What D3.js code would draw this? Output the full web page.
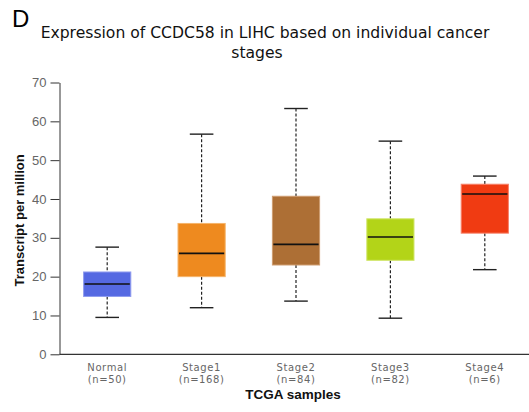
<!DOCTYPE html>
<html>
<head>
<meta charset="utf-8">
<script src="https://cdn.jsdelivr.net/npm/d3@7/dist/d3.min.js"></script>
<style>
  html, body { margin: 0; padding: 0; background: #fff; }
  svg { display: block; }
</style>
</head>
<body>
<svg id="chart" width="529" height="412"></svg>
<script>
// Stage groups and sample counts
const categories = ["Normal", "Stage1", "Stage2", "Stage3", "Stage4"];
const sampleCounts = [50, 168, 84, 82, 6];

// Box-plot summary per group (transcripts per million)
const whiskerLow  = [9.5, 12.0, 13.7, 9.3, 21.8];
const quartile1   = [14.9, 20.0, 23.0, 24.2, 31.2];
const medians     = [18.1, 26.0, 28.3, 30.2, 41.3];
const quartile3   = [21.2, 33.7, 40.7, 34.9, 43.8];
const whiskerHigh = [27.6, 56.7, 63.3, 54.9, 45.9];

const fillColors   = ["#5569e2", "#ee8a1f", "#ad6f35", "#b3d418", "#f03b12"];
const strokeColors = ["#8f9bee", "#f5b46a", "#cf9d70", "#d2e66e", "#f7826a"];

const yTicks = [0, 10, 20, 30, 40, 50, 60, 70];

const svg = d3.select("#chart");
const plot = { left: 60, right: 532, top: 82.5, bottom: 354.3 };

const x = d3.scaleBand().domain(categories).range([plot.left, plot.right]).padding(0);
const y = d3.scaleLinear().domain([0, 70]).range([plot.bottom, plot.top]);

// Panel letter
svg.append("text")
  .attr("x", 12).attr("y", 27)
  .attr("font-family", "Liberation Sans, Arial, sans-serif")
  .attr("font-size", 24)
  .attr("fill", "#000")
  .text("D");

// Title (two lines)
const title = svg.append("text")
  .attr("text-anchor", "middle")
  .attr("font-family", "DejaVu Sans, sans-serif")
  .attr("font-size", 15.6)
  .attr("fill", "#111");
title.append("tspan").attr("x", 265).attr("y", 38).text("Expression of CCDC58 in LIHC based on individual cancer");
title.append("tspan").attr("x", 257).attr("y", 58).text("stages");

// Y axis
const yAxis = svg.append("g")
  .attr("transform", `translate(${plot.left - 0.5},0)`)
  .call(d3.axisLeft(y).tickValues(yTicks).tickSize(9).tickPadding(4).tickSizeOuter(0));
yAxis.select(".domain").attr("stroke", "#333").attr("stroke-width", 1);
yAxis.selectAll(".tick line").attr("stroke", "#333");
yAxis.selectAll(".tick text")
  .attr("fill", "#666")
  .attr("font-family", "Liberation Sans, Arial, sans-serif")
  .attr("font-size", 13);

// X axis baseline
svg.append("line")
  .attr("x1", plot.left - 0.5).attr("x2", 529)
  .attr("y1", y(0)).attr("y2", y(0))
  .attr("stroke", "#333").attr("stroke-width", 1.2);

// Y axis title
svg.append("text")
  .attr("transform", `translate(24,${(y(0) + y(70)) / 2 + 2}) rotate(-90)`)
  .attr("text-anchor", "middle")
  .attr("font-family", "Liberation Sans, Arial, sans-serif")
  .attr("font-weight", "bold")
  .attr("font-size", 13)
  .attr("fill", "#111")
  .text("Transcript per million");

// Category labels
const catLabels = svg.append("g")
  .attr("font-family", "DejaVu Sans, sans-serif")
  .attr("font-size", 10)
  .attr("letter-spacing", 0.6)
  .attr("fill", "#666")
  .attr("text-anchor", "middle");
categories.forEach((c, i) => {
  const cx = x(c) + x.bandwidth() / 2;
  catLabels.append("text").attr("x", cx).attr("y", 371).text(c);
  catLabels.append("text").attr("x", cx).attr("y", 383).text(`(n=${sampleCounts[i]})`);
});

// X axis title
svg.append("text")
  .attr("x", 293).attr("y", 399)
  .attr("text-anchor", "middle")
  .attr("font-family", "Liberation Sans, Arial, sans-serif")
  .attr("font-weight", "bold")
  .attr("font-size", 13.5)
  .attr("fill", "#111")
  .text("TCGA samples");

// Boxes
const boxW = x.bandwidth() * 0.5;
const capW = boxW * 0.5;
const groups = svg.append("g").selectAll("g")
  .data(categories.map((c, i) => ({
    c, i,
    lo: whiskerLow[i], q1: quartile1[i], med: medians[i], q3: quartile3[i], hi: whiskerHigh[i]
  })))
  .join("g")
  .attr("transform", d => `translate(${x(d.c) + x.bandwidth() / 2},0)`);

// Whiskers (dashed)
groups.append("line")
  .attr("x1", 0).attr("x2", 0)
  .attr("y1", d => y(d.hi)).attr("y2", d => y(d.q3))
  .attr("stroke", "#222").attr("stroke-width", 1.2).attr("stroke-dasharray", "3,2");
groups.append("line")
  .attr("x1", 0).attr("x2", 0)
  .attr("y1", d => y(d.q1)).attr("y2", d => y(d.lo))
  .attr("stroke", "#222").attr("stroke-width", 1.2).attr("stroke-dasharray", "3,2");

// Caps
groups.append("line")
  .attr("x1", -capW / 2).attr("x2", capW / 2)
  .attr("y1", d => y(d.hi)).attr("y2", d => y(d.hi))
  .attr("stroke", "#222").attr("stroke-width", 1.4);
groups.append("line")
  .attr("x1", -capW / 2).attr("x2", capW / 2)
  .attr("y1", d => y(d.lo)).attr("y2", d => y(d.lo))
  .attr("stroke", "#222").attr("stroke-width", 1.4);

// Interquartile boxes
groups.append("rect")
  .attr("x", -boxW / 2)
  .attr("width", boxW)
  .attr("y", d => y(d.q3))
  .attr("height", d => y(d.q1) - y(d.q3))
  .attr("fill", d => fillColors[d.i])
  .attr("stroke", d => strokeColors[d.i])
  .attr("stroke-width", 1);

// Medians
groups.append("line")
  .attr("x1", -boxW / 2 + 1).attr("x2", boxW / 2 - 1)
  .attr("y1", d => y(d.med)).attr("y2", d => y(d.med))
  .attr("stroke", "#111").attr("stroke-width", 1.6);
</script>
</body>
</html>
